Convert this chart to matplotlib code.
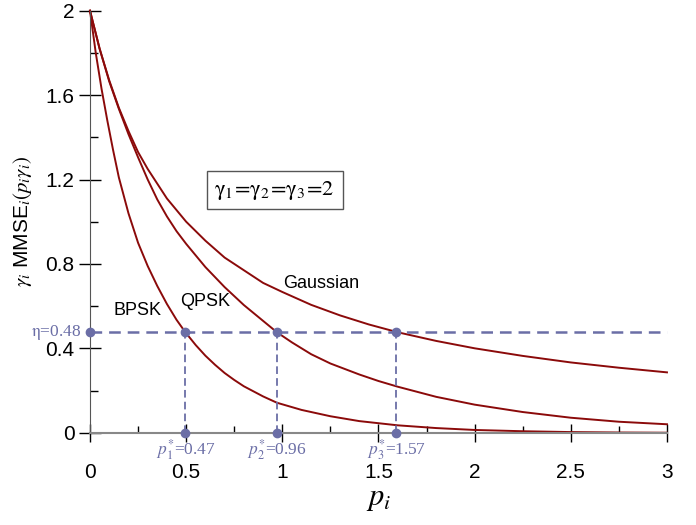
import matplotlib.pyplot as plt
import numpy as np

plt.rcParams['mathtext.fontset'] = 'stix'
plt.rcParams['lines.scale_dashes'] = False

# values
p_gauss = [0, 0.05, 0.1, 0.15, 0.2, 0.25, 0.3, 0.35, 0.4, 0.5, 0.6, 0.7, 0.8, 0.9, 1.0, 1.15, 1.3, 1.45,
           1.6, 1.8, 2.0, 2.25, 2.5, 2.75, 3.0]
v_gauss = [2.0, 1.82, 1.67, 1.54, 1.43, 1.33, 1.25, 1.18, 1.11, 1.0, 0.91, 0.83, 0.77, 0.71, 0.667, 0.606,
           0.556, 0.513, 0.476, 0.435, 0.40, 0.364, 0.333, 0.308, 0.286]

p_qpsk = [0, 0.05, 0.1, 0.15, 0.2, 0.25, 0.3, 0.35, 0.4, 0.45, 0.5, 0.6, 0.7, 0.8, 0.9, 0.972, 1.05, 1.15,
          1.25, 1.4, 1.5, 1.6, 1.8, 2.0, 2.25, 2.5, 2.75, 3.0]
v_qpsk = [2.0, 1.82, 1.665, 1.535, 1.415, 1.305, 1.20, 1.105, 1.025, 0.955, 0.895, 0.785, 0.69, 0.605, 0.53,
          0.476, 0.428, 0.372, 0.328, 0.276, 0.245, 0.218, 0.17, 0.133, 0.098, 0.071, 0.052, 0.04]

p_bpsk = [0, 0.03, 0.06, 0.09, 0.12, 0.15, 0.2, 0.25, 0.3, 0.35, 0.4, 0.45, 0.496, 0.55, 0.6, 0.65, 0.7,
          0.75, 0.8, 0.9, 0.972, 1.1, 1.25, 1.4, 1.6, 1.8, 2.0, 2.25, 2.5, 2.75, 3.0]
v_bpsk = [2.0, 1.80, 1.63, 1.48, 1.34, 1.21, 1.04, 0.90, 0.79, 0.695, 0.61, 0.535, 0.476, 0.415, 0.365,
          0.322, 0.283, 0.25, 0.22, 0.172, 0.142, 0.108, 0.078, 0.055, 0.035, 0.022, 0.013, 0.007, 0.003,
          0.001, 0.0]

eta = 0.476
p_star = [0.496, 0.972, 1.592]
star_labels = [r'$p_1^{*}$=0.47', r'$p_2^{*}$=0.96', r'$p_3^{*}$=1.57']

curve_color = '#8b0a0a'
dash_color = '#6b6ea6'

fig = plt.figure(figsize=(6.96, 5.25), dpi=100)
ax = fig.add_axes([0.1293, 0.1758, 0.829, 0.8038])

ax.plot(p_gauss, v_gauss, color=curve_color, lw=1.4, clip_on=False)
ax.plot(p_qpsk, v_qpsk, color=curve_color, lw=1.4, clip_on=False)
ax.plot(p_bpsk, v_bpsk, color=curve_color, lw=1.4, clip_on=False)

# water level line and the points where it meets the curves
ax.plot([0, 3], [eta, eta], color=dash_color, lw=1.8, dashes=(8.4, 5.0), clip_on=False)
for p in p_star:
    ax.plot([p, p], [0, eta], color=dash_color, lw=1.3, dashes=(5.5, 3.0), clip_on=False)
ax.plot([0] + p_star, [eta] * 4, 'o', color=dash_color, ms=6, clip_on=False, zorder=5)
ax.plot(p_star, [0] * 3, 'o', color=dash_color, ms=6, clip_on=False, zorder=5)

for p, lab in zip(p_star, star_labels):
    ax.text(p, -0.02, lab, color=dash_color, family='Liberation Serif', fontsize=12.5,
            ha='center', va='top')
ax.text(-0.045, eta, r'$\mathrm{\eta}$=0.48', color=dash_color, family='Liberation Serif',
        fontsize=12.5, ha='right', va='center')

ax.text(0.245, 0.577, 'BPSK', fontsize=13, family='Liberation Sans', ha='center', va='center')
ax.text(0.60, 0.62, 'QPSK', fontsize=13, family='Liberation Sans', ha='center', va='center')
ax.text(1.2, 0.705, 'Gaussian', fontsize=13, family='Liberation Sans', ha='center', va='center')

ax.text(0.96, 1.15, r'$\mathrm{\gamma_1\!=\!\gamma_2\!=\!\gamma_3\!=\!2}$', fontsize=16,
        ha='center', va='center',
        bbox=dict(boxstyle='square,pad=0.35', fc='white', ec='#555555', lw=1))

ax.set_xlim(0, 3)
ax.set_ylim(0, 2)
ax.set_xticks([0, 0.5, 1, 1.5, 2, 2.5, 3])
ax.set_xticklabels(['0', '0.5', '1', '1.5', '2', '2.5', '3'])
ax.set_xticks(np.arange(0.25, 3, 0.5), minor=True)
ax.set_yticks([0, 0.4, 0.8, 1.2, 1.6, 2])
ax.set_yticklabels(['0', '0.4', '0.8', '1.2', '1.6', '2'])
ax.set_yticks(np.arange(0.2, 2, 0.4), minor=True)

for lab in ax.get_xticklabels() + ax.get_yticklabels():
    lab.set_family('Liberation Sans')
    lab.set_fontsize(15)

ax.tick_params(axis='x', which='major', direction='inout', length=13, width=1, pad=15)
ax.tick_params(axis='x', which='minor', direction='in', length=5, width=1)
ax.tick_params(axis='y', which='major', direction='inout', length=16, width=1, pad=3)
ax.tick_params(axis='y', which='minor', direction='in', length=6, width=1)

ax.spines['top'].set_visible(False)
ax.spines['right'].set_visible(False)
ax.spines['left'].set_color('#555555')
ax.spines['bottom'].set_color('#888888')
ax.spines['bottom'].set_linewidth(1.5)

ax.set_xlabel(r'$p_i$', fontsize=22, labelpad=2)
ax.set_ylabel(r'$\gamma_i$ MMSE$_i(p_i\gamma_i)$', fontsize=15, family='Liberation Sans', labelpad=8)

fig.savefig('out.png', dpi=100)
